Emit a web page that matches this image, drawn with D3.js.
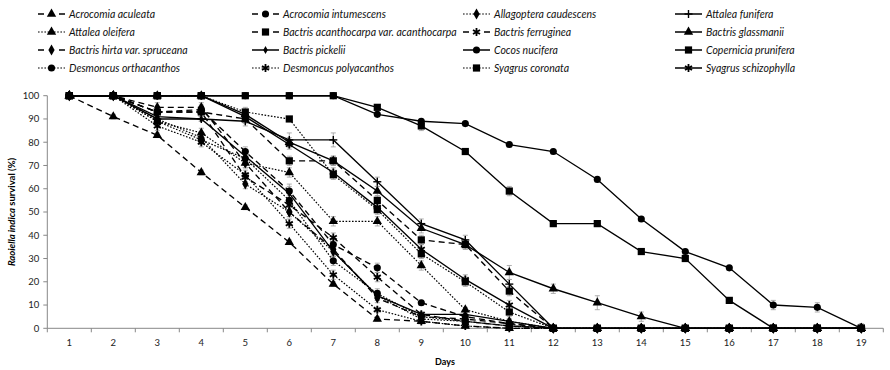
<!DOCTYPE html>
<html><head><meta charset="utf-8">
<script src="https://cdn.jsdelivr.net/npm/d3@7"></script>
<style>
body{margin:0;background:#fff;}
svg{display:block;font-family:Lato,"Open Sans",sans-serif;}
</style></head><body>
<svg id="c" width="890" height="370"></svg>
<script>
// ---- data ----
const days = [1,2,3,4,5,6,7,8,9,10,11,12,13,14,15,16,17,18,19];
const yTicks = [0,10,20,30,40,50,60,70,80,90,100];
const seriesNames = [
 "Acrocomia aculeata","Acrocomia intumescens","Allagoptera caudescens","Attalea funifera",
 "Attalea oleifera","Bactris acanthocarpa var. acanthocarpa","Bactris ferruginea","Bactris glassmanii",
 "Bactris hirta var. spruceana","Bactris pickelii","Cocos nucifera","Copernicia prunifera",
 "Desmoncus orthacanthos","Desmoncus polyacanthos","Syagrus coronata","Syagrus schizophylla"];
const aculeata     = [100,91,83,67,52,37,19,4,3,1,0,0,0,0,0,0,0,0,0];
const intumescens  = [100,100,93,94,76,59,36,26,11,5,2,0,0,0,0,0,0,0,0];
const caudescens   = [100,100,90,82,62,50,33,14,4,3,1,0,0,0,0,0,0,0,0];
const funifera     = [100,100,90,90,89,81,81,63,45,38,19,0,0,0,0,0,0,0,0];
const oleifera     = [100,100,89,84,71,67,46,46,27,8,3,0,0,0,0,0,0,0,0];
const acanthocarpa = [100,100,93,93,90,72,72,55,38,36,16,0,0,0,0,0,0,0,0];
const ferruginea   = [100,100,93,93,65,53,39,22,6,3,1,0,0,0,0,0,0,0,0];
const glassmanii   = [100,100,100,100,92,80,72,59,43,36,24,17,11,5,0,0,0,0,0];
const hirta        = [100,100,95,95,71,50,34,13,5,4,2,0,0,0,0,0,0,0,0];
const pickelii     = [100,100,91,90,74,58,33,14,6,6,3,0,0,0,0,0,0,0,0];
const nucifera     = [100,100,100,100,100,100,100,92,89,88,79,76,64,47,33,26,10,9,0];
const prunifera    = [100,100,100,100,100,100,100,95,87,76,59,45,45,33,30,12,0,0,0];
const orthacanthos = [100,100,89,81,73,55,29,15,5,3,1,0,0,0,0,0,0,0,0];
const polyacanthos = [100,100,87,80,66,45,23,8,3,1,0,0,0,0,0,0,0,0,0];
const coronata     = [100,100,100,100,93,90,66,51,32,20,7,0,0,0,0,0,0,0,0];
const schizophylla = [100,100,100,100,91,79,67,52,34,21,10,0,0,0,0,0,0,0,0];
// standard errors
const seAculeata     = [0,1,1,1,1,1,1,1,1,1];
const seIntumescens  = [0,0,2,2,2,3,2,2,1,1,1];
const seCaudescens   = [0,0,1,2,2,2,2,2,1,1,1];
const seFunifera     = [0,0,1,1,2,3,3,2,2,2,2];
const seOleifera     = [0,0,1,2,2,2,2,2,2,1,1];
const seAcanthocarpa = [0,0,2,2,2,2,2,2,2,2,2];
const seFerruginea   = [0,0,2,2,2,2,2,2,1,1,1];
const seGlassmanii   = [0,0,0,0,2,2,2,2,2,2,3,2,3,2];
const seHirta        = [0,0,2,2,2,2,2,2,1,1,1];
const sePickelii     = [0,0,1,1,2,3,2,2,1,1,1];
const seNucifera     = [0,0,0,0,0,0,0,1,1,1,1,1,1,1,1,1,2,2,2];
const sePrunifera    = [0,0,0,0,0,0,0,1,2,1,2,1,1,1,1,1,0,0,0];
const seOrthacanthos = [0,0,1,2,2,2,2,2,1,1,1];
const sePolyacanthos = [0,0,2,2,2,2,2,1,1,1];
const seCoronata     = [0,0,0,0,2,1,2,2,2,2,2];
const seSchizophylla = [0,0,0,0,2,2,2,2,2,2,2];

const valueSets = [aculeata,intumescens,caudescens,funifera,oleifera,acanthocarpa,ferruginea,glassmanii,
  hirta,pickelii,nucifera,prunifera,orthacanthos,polyacanthos,coronata,schizophylla];
const seSets = [seAculeata,seIntumescens,seCaudescens,seFunifera,seOleifera,seAcanthocarpa,seFerruginea,seGlassmanii,
  seHirta,sePickelii,seNucifera,sePrunifera,seOrthacanthos,sePolyacanthos,seCoronata,seSchizophylla];

// ---- styles ----
const DASH = "6,4", DOT = "1.6,1.6", SOLID = null;
const styles = [
 {dash:DASH, sym:"triangle"},{dash:DASH, sym:"circle"},{dash:DOT, sym:"diamond"},{dash:SOLID, sym:"plus"},
 {dash:DOT, sym:"triangle"},{dash:DASH, sym:"square"},{dash:DASH, sym:"asterisk"},{dash:SOLID, sym:"triangle"},
 {dash:DASH, sym:"diamond"},{dash:SOLID, sym:"smalldiamond"},{dash:SOLID, sym:"circle"},{dash:SOLID, sym:"square"},
 {dash:DOT, sym:"circle"},{dash:DOT, sym:"asterisk"},{dash:DOT, sym:"square"},{dash:SOLID, sym:"asterisk"}];

const svg = d3.select("#c");
const x = d3.scaleLinear().domain([0.5,19.5]).range([47.3,883.3]);
const y = d3.scaleLinear().domain([0,100]).range([328.3,95.7]);
const axisColor = "#878787";

function drawSymbol(g, sym, cx, cy){
  const gen = {
    triangle: d3.symbol(d3.symbolTriangle, 38),
    circle: d3.symbol(d3.symbolCircle, 40),
    diamond: d3.symbol(d3.symbolDiamond, 34),
    smalldiamond: d3.symbol(d3.symbolDiamond, 18),
    square: d3.symbol(d3.symbolSquare, 52),
  };
  if (sym === "plus") {
    g.append("line").attr("x1",cx).attr("x2",cx).attr("y1",cy-4).attr("y2",cy+4).attr("stroke","#000").attr("stroke-width",1.4);
    g.append("line").attr("x1",cx-4).attr("x2",cx+4).attr("y1",cy).attr("y2",cy).attr("stroke","#000").attr("stroke-width",1.4);
  } else if (sym === "asterisk") {
    g.append("path").attr("d", d3.symbol(d3.symbolAsterisk, 46)()).attr("transform",`translate(${cx},${cy})`)
     .attr("fill","none").attr("stroke","#000").attr("stroke-width",1.8);
  } else {
    g.append("path").attr("d", gen[sym]()).attr("transform",`translate(${cx},${cy})`).attr("fill","#000");
  }
}

// ---- axes ----
const xAxisG = svg.append("g").attr("transform",`translate(0,${y(0)})`);
xAxisG.append("line").attr("x1",x(0.5)).attr("x2",x(19.5)).attr("y1",0).attr("y2",0).attr("stroke",axisColor);
const bounds = days.map(d=>d-0.5).concat([days[days.length-1]+0.5]);
xAxisG.selectAll("line.t").data(bounds).join("line").attr("class","t")
  .attr("x1",d=>x(d)).attr("x2",d=>x(d)).attr("y1",0).attr("y2",4).attr("stroke",axisColor);
xAxisG.selectAll("text").data(days).join("text")
  .attr("x",d=>x(d)).attr("y",18).attr("text-anchor","middle").attr("font-size",9.5).attr("fill","#222").text(d=>d);

const yAxisG = svg.append("g").attr("transform",`translate(${x(0.5)},0)`);
yAxisG.append("line").attr("x1",0).attr("x2",0).attr("y1",y(0)).attr("y2",y(100)).attr("stroke",axisColor);
yAxisG.selectAll("line.t").data(yTicks).join("line").attr("class","t")
  .attr("x1",-4).attr("x2",0).attr("y1",d=>y(d)).attr("y2",d=>y(d)).attr("stroke",axisColor);
yAxisG.selectAll("text").data(yTicks).join("text")
  .attr("x",-8).attr("y",d=>y(d)+3.3).attr("text-anchor","end").attr("font-size",9.5).attr("fill","#222").text(d=>d);

svg.append("text").attr("x",445).attr("y",365).attr("text-anchor","middle")
  .attr("font-size",9).attr("font-weight","bold").text("Days");
const yl = svg.append("text").attr("transform",`translate(15,${(y(0)+y(100))/2}) rotate(-90)`)
  .attr("text-anchor","middle").attr("font-size",9.5).attr("font-weight","bold");
yl.append("tspan").attr("font-style","italic").text("Raoiella indica");
yl.append("tspan").text(" survival (%)");

// ---- series ----
const line = d3.line().x((d,i)=>x(days[i])).y(d=>y(d));
const plot = svg.append("g");
valueSets.forEach((vals,si)=>{
  const se = seSets[si];
  const g = plot.append("g").attr("stroke","#9a9a9a").attr("stroke-width",0.8);
  vals.forEach((v,i)=>{
    const e = se[i] || 0;
    if (!e) return;
    const cx = x(days[i]);
    g.append("line").attr("x1",cx).attr("x2",cx).attr("y1",y(Math.min(100,v+e))).attr("y2",y(Math.max(0,v-e)));
    g.append("line").attr("x1",cx-2.5).attr("x2",cx+2.5).attr("y1",y(Math.min(100,v+e))).attr("y2",y(Math.min(100,v+e)));
    if (v-e>0) g.append("line").attr("x1",cx-2.5).attr("x2",cx+2.5).attr("y1",y(v-e)).attr("y2",y(v-e));
  });
});
valueSets.forEach((vals,si)=>{
  const st = styles[si];
  plot.append("path").attr("d", line(vals)).attr("fill","none").attr("stroke","#000")
    .attr("stroke-width", st.dash===DOT ? 1.2 : 1.35)
    .attr("stroke-dasharray", st.dash);
});
valueSets.forEach((vals,si)=>{
  const st = styles[si];
  const g = plot.append("g");
  vals.forEach((v,i)=>drawSymbol(g, st.sym, x(days[i]), y(v)));
});

// ---- legend ----
const colX = [38, 252, 463, 675];
const rowY = [14, 32, 50, 68];
seriesNames.forEach((name,i)=>{
  const cx = colX[i%4], cy = rowY[Math.floor(i/4)];
  const st = styles[i];
  const g = svg.append("g");
  if (st.dash === DASH) {
    g.append("line").attr("x1",cx).attr("x2",cx+6).attr("y1",cy).attr("y2",cy).attr("stroke","#000").attr("stroke-width",1.5);
    g.append("line").attr("x1",cx+21).attr("x2",cx+27).attr("y1",cy).attr("y2",cy).attr("stroke","#000").attr("stroke-width",1.5);
  } else {
    g.append("line").attr("x1",cx).attr("x2",cx+27).attr("y1",cy).attr("y2",cy).attr("stroke","#000")
     .attr("stroke-width", st.dash===DOT?1.1:1.5).attr("stroke-dasharray", st.dash);
  }
  drawSymbol(g, st.sym, cx+13.5, cy);
  g.append("text").attr("x",cx+31).attr("y",cy+3.6).attr("font-size",10.5).attr("font-style","italic").attr("fill","#111").text(name);
});
</script>
</body></html>
